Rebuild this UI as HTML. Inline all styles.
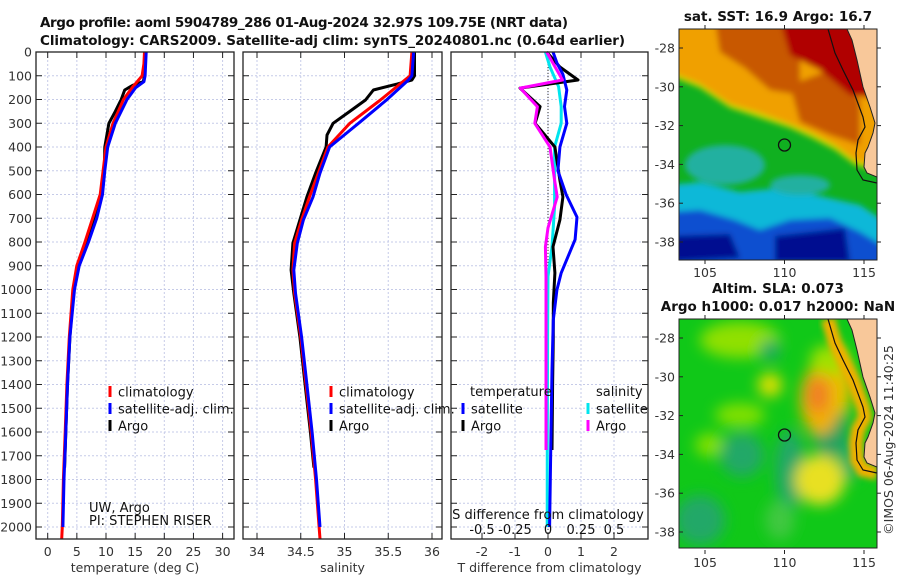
<!DOCTYPE html>
<html><head><meta charset="utf-8"><style>
html,body{margin:0;padding:0;background:#fff;}
svg{display:block;font-family:"DejaVu Sans","Liberation Sans",sans-serif;}
.tk{font-size:12.5px;fill:#333;}
.lg{font-size:13px;fill:#111;}
.ttl{font-size:13.5px;font-weight:bold;fill:#111;}
</style></head><body>
<svg id="fig" width="900" height="580" viewBox="0 0 900 580">
<text class="ttl" x="40" y="27" textLength="528">Argo profile: aoml 5904789_286 01-Aug-2024 32.97S 109.75E (NRT data)</text>
<text class="ttl" x="40" y="45" textLength="585">Climatology: CARS2009. Satellite-adj clim: synTS_20240801.nc (0.64d earlier)</text>
<g id="charts"></g>
<g id="maps"></g>
<text class="tk" transform="translate(893,440) rotate(-90)" text-anchor="middle" font-size="13">©IMOS 06-Aug-2024 11:40:25</text>
</svg>
<script>
// ---- data ----
const tClimDepth=[0,50,100,150,200,300,400,500,600,700,800,900,1000,1200,1400,1600,1800,2000,2050];
const tClim=[16.6,16.5,16.2,14.5,13.0,11.2,10.0,9.5,9.0,7.7,6.4,5.0,4.3,3.7,3.3,3.0,2.7,2.5,2.4];
const tSatDepth=[0,100,125,150,200,300,400,500,600,700,800,900,1000,1200,1400,1600,1800,2000];
const tSat=[16.9,16.7,16.5,15.1,13.6,11.6,10.3,9.8,9.4,8.4,7.0,5.4,4.6,3.8,3.4,3.1,2.8,2.6];
const tArgoDepth=[0,100,125,140,160,200,250,300,400,500,600,700,800,900,1000,1200,1400,1600,1750];
const tArgo=[16.6,16.6,16.4,14.6,13.2,12.6,11.6,10.5,9.8,9.7,9.3,8.0,6.6,5.2,4.4,3.8,3.4,3.1,2.9];
const sClimDepth=[0,100,118,202,300,400,510,610,707,805,918,1015,1200,1400,1600,1800,2000,2050];
const sClim=[35.77,35.75,35.69,35.41,35.06,34.81,34.70,34.60,34.51,34.43,34.41,34.43,34.50,34.56,34.62,34.67,34.71,34.72];
const sSatDepth=[0,100,118,202,300,400,510,610,707,805,918,1015,1200,1400,1600,1800,2000];
const sSat=[35.79,35.77,35.73,35.48,35.16,34.83,34.72,34.64,34.53,34.46,34.42,34.44,34.51,34.57,34.63,34.68,34.72];
const sArgoDepth=[0,100,118,135,160,202,250,300,350,400,510,610,707,805,918,1015,1200,1400,1600,1750];
const sArgo=[35.80,35.80,35.77,35.60,35.33,35.24,35.06,34.87,34.80,34.79,34.67,34.57,34.49,34.41,34.39,34.42,34.49,34.55,34.61,34.65];
const dTSatDepth=[0,46,94,160,230,300,400,500,600,695,790,930,1002,1128,1340,1600,1800,2000];
const dTSat=[0.15,0.27,0.45,0.57,0.50,0.57,0.36,0.30,0.55,0.88,0.82,0.40,0.27,0.16,0.12,0.09,0.07,0.05];
const dTArgoDepth=[0,63,118,152,230,300,400,540,610,707,820,930,1057,1200,1400,1676];
const dTArgo=[-0.04,0.36,0.91,-0.85,-0.24,-0.39,0.21,0.36,0.45,0.36,0.15,0.21,0.16,0.16,0.14,0.12];
const dSSatDepth=[0,63,146,230,300,400,650,820,945,1200,1600,2000];
const dSSat=[-0.02,0.015,0.08,0.10,0.10,0.05,0.05,0.03,0.0,-0.003,-0.005,-0.006];
const dSArgoDepth=[0,118,152,230,300,400,540,610,740,820,945,1200,1676];
const dSArgo=[-0.01,0.11,-0.21,-0.08,-0.10,0.015,0.05,0.07,0.0,-0.02,-0.015,-0.015,-0.015];
const depthTicks=[0,100,200,300,400,500,600,700,800,900,1000,1100,1200,1300,1400,1500,1600,1700,1800,1900,2000];
const tTicks=[0,5,10,15,20,25,30];
const sTicks=[34,34.5,35,35.5,36];
const sTickLabels=['34','34.5','35','35.5','36'];
const dTTicks=[-2,-1,0,1,2];
const dSTicks=[-0.5,-0.25,0,0.25,0.5];
const dSTickLabels=['-0.5','-0.25','0','0.25','0.5'];

// ---- axes ----
const TOP=52,BOT=539;
const yD=d=>TOP+d*0.2375;
const xT=t=>47.7+t*5.83;
const xS=s=>257+(s-34)*87.5;
const xdT=t=>548+t*33;
const xdS=s=>548+s*132;
const NS='http://www.w3.org/2000/svg';
const G=document.getElementById('charts');
function mk(tag,attrs,parent){const e=document.createElementNS(NS,tag);for(const k in attrs)e.setAttribute(k,attrs[k]);(parent||G).appendChild(e);return e;}
function txt(x,y,s,cls,anchor,parent){const e=mk('text',{x:x,y:y,class:cls,'text-anchor':anchor||'start'},parent);e.textContent=s;return e;}

function panel(name,x0,x1,xs,xticks,xlabels,xlabel){
  const g=mk('g',{});
  
  
  xticks.forEach(v=>{const x=xs(v);mk('line',{x1:x,x2:x,y1:TOP,y2:BOT,stroke:'#c6cbe8','stroke-width':1,'stroke-dasharray':'2,2'},g);});
  depthTicks.forEach(d=>{const y=yD(d);mk('line',{x1:x0,x2:x1,y1:y,y2:y,stroke:'#c6cbe8','stroke-width':1,'stroke-dasharray':'2,2'},g);
    mk('line',{x1:x0,x2:x0+6,y1:y,y2:y,stroke:'#222'},g);mk('line',{x1:x1-6,x2:x1,y1:y,y2:y,stroke:'#222'},g);});
  xticks.forEach((v,i)=>{const x=xs(v);mk('line',{x1:x,x2:x,y1:TOP,y2:TOP+6,stroke:'#222'},g);mk('line',{x1:x,x2:x,y1:BOT-6,y2:BOT,stroke:'#222'},g);
    const t=txt(x,556,xlabels[i],'tk','middle',g);});
  const xl=txt((x0+x1)/2,572,xlabel,'tk','middle',g);
  
  
  return g;
}
function frame(g,x0,x1){mk('rect',{x:x0,y:TOP,width:x1-x0,height:BOT-TOP,fill:'none',stroke:'#222','stroke-width':1.3},g);}
function line(g,depths,vals,xs,color,name,w){
  const pts=depths.map((d,i)=>xs(vals[i]).toFixed(1)+','+yD(d).toFixed(1)).join(' ');
  const p=mk('polyline',{points:pts,fill:'none',stroke:color,'stroke-width':w||3,'stroke-linejoin':'round'},g);
  
  
}
function legend(g,x,y,color,label){
  mk('rect',{x:x-1.5,y:y-6,width:3,height:11,fill:color},g);
  const t=txt(x+8,y+4.5,label,'lg','start',g);
  
  
}

// panel 1 temperature
const p1=panel('temperature-panel',36,234,xT,tTicks,tTicks.map(String),'temperature (deg C)');
depthTicks.forEach(d=>{const t=txt(32,yD(d)+4.5,String(d),'tk','end',p1);});
line(p1,tArgoDepth,tArgo,xT,'#000','temp-argo-line');
line(p1,tClimDepth,tClim,xT,'#f00','temp-climatology-line');
line(p1,tSatDepth,tSat,xT,'#00f','temp-satellite-line');
legend(p1,110,392,'#f00','climatology');legend(p1,110,409,'#00f','satellite-adj. clim.');legend(p1,110,426,'#000','Argo');
txt(89,512,'UW, Argo','lg','start',p1).setAttribute('font-size','11');
txt(89,525,'PI: STEPHEN RISER','lg','start',p1).setAttribute('font-size','11');
frame(p1,36,234);

// panel 2 salinity
const p2=panel('salinity-panel',243,442,xS,sTicks,sTickLabels,'salinity');
line(p2,sArgoDepth,sArgo,xS,'#000','sal-argo-line');
line(p2,sClimDepth,sClim,xS,'#f00','sal-climatology-line');
line(p2,sSatDepth,sSat,xS,'#00f','sal-satellite-line');
legend(p2,331,392,'#f00','climatology');legend(p2,331,409,'#00f','satellite-adj. clim.');legend(p2,331,426,'#000','Argo');
frame(p2,243,442);

// panel 3 differences
const p3=panel('difference-panel',451,648,xdT,dTTicks,dTTicks.map(String),'T difference from climatology');
mk('line',{x1:548,x2:548,y1:TOP,y2:BOT,stroke:'#333','stroke-width':1,'stroke-dasharray':'1,2'},p3);
line(p3,dSSatDepth,dSSat,xdS,'#00e5ee','sdiff-satellite-line');
line(p3,dTArgoDepth,dTArgo,xdT,'#000','tdiff-argo-line');
line(p3,dTSatDepth,dTSat,xdT,'#00f','tdiff-satellite-line');
line(p3,dSArgoDepth,dSArgo,xdS,'#f0f','sdiff-argo-line');
txt(470,396,'temperature','lg','start',p3);txt(596,396,'salinity','lg','start',p3);
legend(p3,463,409,'#00f','satellite');legend(p3,463,426,'#000','Argo');
legend(p3,588,409,'#00e5ee','satellite');legend(p3,588,426,'#f0f','Argo');
txt(548,519,'S difference from climatology','lg','middle',p3);
dSTicks.forEach((v,i)=>{const t=txt(xdS(v),534,dSTickLabels[i],'lg','middle',p3);});
frame(p3,451,648);

// ---- maps ----
const M=document.getElementById('maps');
const latTicks=[-28,-30,-32,-34,-36,-38];
const lonTicks=[105,110,115];
function coast(dy){
  const land=[[847,29],[852,40],[857,60],[863,87],[870,107],[875,123],[873,133],[868,147],[865,153],[864,167],[867,173],[877,177],[877,29]];
  const cont=[[828,29],[835,53],[843,70],[853,90],[863,117],[865,127],[858,140],[856,153],[857,170],[863,180],[877,183]];
  return {land:land.map(p=>p[0]+','+(p[1]+dy)).join(' '),cont:cont.map(p=>p[0]+','+(p[1]+dy)).join(' '),
    lc:land.slice(0,12).map(p=>p[0]+','+(p[1]+dy)).join(' ')};
}
function mapFrame(g,dy,title1,title2){
  const y0=29+dy,y1=260+dy;
  latTicks.forEach(l=>{const y=48+dy+(-28-l)*19.4;mk('line',{x1:679,x2:683,y1:y,y2:y,stroke:'#222'},g);mk('line',{x1:877,x2:881,y1:y,y2:y,stroke:'#222'},g);
    const t=txt(675,y+4.5,String(l),'tk','end',g);});
  lonTicks.forEach(l=>{const x=705+(l-105)*15.9;mk('line',{x1:x,x2:x,y1:y1,y2:y1+4,stroke:'#222'},g);mk('line',{x1:x,x2:x,y1:y0-4,y2:y0,stroke:'#222'},g);
    const t=txt(x,y1+17,String(l),'tk','middle',g);});
  if(title2){txt(778,y0-26,title1,'ttl','middle',g);txt(778,y0-8,title2,'ttl','middle',g);}
  else txt(778,y0-8,title1,'ttl','middle',g);
}
const defs=mk('defs',{},M);
const f=mk('filter',{id:'bl',x:'-20%',y:'-20%',width:'140%',height:'140%'},defs);mk('feGaussianBlur',{stdDeviation:3},f);
const f2=mk('filter',{id:'bl2',x:'-30%',y:'-30%',width:'160%',height:'160%'},defs);mk('feGaussianBlur',{stdDeviation:7},f2);
const c1=mk('clipPath',{id:'c1'},defs);mk('rect',{x:679,y:29,width:198,height:231},c1);
const c2=mk('clipPath',{id:'c2'},defs);mk('rect',{x:679,y:319,width:198,height:229},c2);

// map 1 SST
const m1=mk('g',{},M);
const m1c=mk('g',{'clip-path':'url(#c1)'},m1);
mk('rect',{x:679,y:29,width:198,height:231,fill:'#10b020'},m1c);
const m1b=mk('g',{filter:'url(#bl)'},m1c);
mk('polygon',{points:'670,185 700,182 740,192 780,188 820,196 860,205 890,225 890,270 670,270',fill:'#10b8d8'},m1b);
mk('polygon',{points:'670,212 700,210 735,220 760,230 790,220 830,218 860,232 890,250 890,270 670,270',fill:'#1050d0'},m1b);
mk('polygon',{points:'670,236 730,234 740,258 670,262',fill:'#000a90'},m1b);
mk('polygon',{points:'775,236 845,228 850,262 775,262',fill:'#000a90'},m1b);
mk('ellipse',{cx:725,cy:165,rx:40,ry:20,fill:'#20b0a0'},m1b);
mk('ellipse',{cx:800,cy:185,rx:30,ry:10,fill:'#20b0a0'},m1b);
mk('polygon',{points:'670,20 890,20 890,175 855,165 835,150 812,138 790,128 760,118 730,108 700,88 670,76',fill:'#c8d800'},m1b);
mk('polygon',{points:'670,20 890,20 890,172 855,160 835,145 812,133 790,124 760,113 730,104 700,84 670,72',fill:'#f0a000'},m1b);
mk('polygon',{points:'715,20 800,20 800,95 770,90 745,68 720,52',fill:'#c85800'},m1b);
mk('polygon',{points:'790,85 830,70 860,100 860,145 830,135 800,122',fill:'#c85800'},m1b);
mk('polygon',{points:'780,20 890,20 890,100 850,95 820,70 790,55',fill:'#b00000'},m1b);
const cs1=coast(0);
mk('polygon',{points:cs1.land,fill:'#f8c89a'},m1c);
mk('polyline',{points:cs1.lc,fill:'none',stroke:'#222','stroke-width':1},m1c);
mk('polyline',{points:cs1.cont,fill:'none',stroke:'#111','stroke-width':1.2},m1c);
mk('circle',{cx:784.5,cy:145,r:6,fill:'none',stroke:'#111','stroke-width':1.3},m1c);
mk('rect',{x:679,y:29,width:198,height:231,fill:'none',stroke:'#222'},m1);
mapFrame(m1,0,'sat. SST: 16.9 Argo: 16.7');

// map 2 SLA
const m2=mk('g',{},M);
const m2c=mk('g',{'clip-path':'url(#c2)'},m2);
mk('rect',{x:679,y:319,width:198,height:229,fill:'#10c818'},m2c);
const m2b=mk('g',{filter:'url(#bl2)'},m2c);
[[740,340,40,18,'#90e000'],[770,385,12,12,'#e0e000'],[770,350,10,10,'#20a868'],[740,415,25,12,'#80e000'],[710,445,15,12,'#80e000'],
 [742,455,22,22,'#20a868'],[700,520,25,25,'#20a868'],[790,470,15,40,'#20a868'],[830,425,18,35,'#20a060'],[820,400,20,35,'#f0b000'],[818,395,12,18,'#f08020'],
 [842,385,10,30,'#e8c000'],[820,480,25,25,'#e8e020'],[830,360,20,15,'#a0e000'],[780,520,15,20,'#40c840'],[850,460,10,20,'#20b060']]
 .forEach(e=>mk('ellipse',{cx:e[0],cy:e[1],rx:e[2],ry:e[3],fill:e[4]},m2b));
const cs2=coast(290);
mk('polyline',{points:'828,319 835,343 843,360 853,380 863,407 865,417 858,430 856,443 857,460 863,470 877,473',fill:'none',stroke:'#f0b000','stroke-width':14,filter:'url(#bl)'},m2c);
mk('polygon',{points:cs2.land,fill:'#f8c89a'},m2c);
mk('polyline',{points:cs2.lc,fill:'none',stroke:'#222','stroke-width':1},m2c);
mk('polyline',{points:cs2.cont,fill:'none',stroke:'#111','stroke-width':1.2},m2c);
mk('circle',{cx:784.5,cy:435,r:6,fill:'none',stroke:'#111','stroke-width':1.3},m2c);
mk('rect',{x:679,y:319,width:198,height:229,fill:'none',stroke:'#222'},m2);
mapFrame(m2,290,'Altim. SLA: 0.073','Argo h1000: 0.017 h2000: NaN');
</script>
</body></html>
